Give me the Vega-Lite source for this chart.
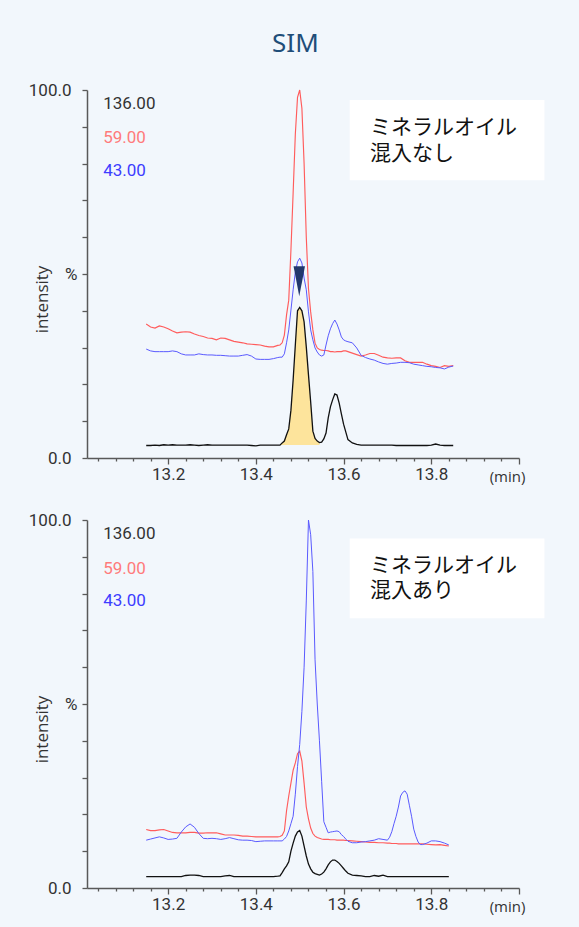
{
"$schema": "https://vega.github.io/schema/vega-lite/v6.json",
"background": "#f2f7fc",
"padding": {"left": 28, "top": 31, "right": 34, "bottom": 24},
"title": {"text": "SIM", "fontSize": 26, "color": "#1f4e79", "font": "Noto Sans", "fontWeight": "normal", "anchor": "middle", "offset": 24, "dx": 9},
"spacing": 62,
"bounds": "flush",
"config": {
  "view": {"stroke": null},
  "axis": {"domainColor": "#595959", "domainWidth": 1.5, "tickColor": "#595959", "tickWidth": 1.3, "labelFont": "Liberation Sans Narrow, Roboto, sans-serif", "labelFontSize": 17, "labelColor": "#333333", "grid": false}
},
"datasets": {
"top": [
{"t":13.15,"k":3.4,"r":36.4,"b":29.6},{"t":13.16,"k":3.4,"r":35.6,"b":29.1},{"t":13.17,"k":3.5,"r":35.3,"b":28.9},{"t":13.18,"k":3.4,"r":35.9,"b":28.9},{"t":13.19,"k":3.6,"r":35.6,"b":28.9},{"t":13.2,"k":3.5,"r":35.1,"b":28.9},{"t":13.21,"k":3.6,"r":34.5,"b":29.1},{"t":13.22,"k":3.5,"r":34.0,"b":28.9},{"t":13.23,"k":3.5,"r":34.2,"b":28.3},{"t":13.24,"k":3.5,"r":34.3,"b":28.0},
{"t":13.25,"k":3.6,"r":34.2,"b":28.0},{"t":13.26,"k":3.5,"r":33.7,"b":28.0},{"t":13.27,"k":3.4,"r":33.3,"b":28.3},{"t":13.28,"k":3.5,"r":33.0,"b":28.1},{"t":13.29,"k":3.6,"r":32.6,"b":28.0},{"t":13.3,"k":3.5,"r":32.5,"b":28.0},{"t":13.31,"k":3.5,"r":32.1,"b":27.9},{"t":13.32,"k":3.5,"r":32.6,"b":27.9},{"t":13.33,"k":3.5,"r":32.5,"b":27.8},{"t":13.34,"k":3.5,"r":32.1,"b":27.7},
{"t":13.35,"k":3.5,"r":31.7,"b":27.7},{"t":13.36,"k":3.5,"r":31.5,"b":27.7},{"t":13.37,"k":3.5,"r":31.3,"b":27.9},{"t":13.38,"k":3.5,"r":31.0,"b":28.1},{"t":13.39,"k":3.4,"r":30.9,"b":27.7},{"t":13.4,"k":3.3,"r":30.8,"b":26.9},{"t":13.41,"k":3.5,"r":30.7,"b":26.8},{"t":13.42,"k":3.5,"r":30.4,"b":26.8},{"t":13.43,"k":3.5,"r":30.2,"b":26.8},{"t":13.44,"k":3.5,"r":30.2,"b":27.0},
{"t":13.45,"k":3.5,"r":30.6,"b":27.3},{"t":13.455,"k":3.5,"r":30.7,"b":27.4},{"t":13.46,"k":4.1,"r":31.3,"b":27.4},{"t":13.465,"k":4.6,"r":33.4,"b":28.3},{"t":13.47,"k":6.3,"r":38.9,"b":31.3},{"t":13.475,"k":7.9,"r":42.9,"b":34.8},{"t":13.48,"k":13.0,"r":56.5,"b":40.2},{"t":13.485,"k":21.2,"r":72.0,"b":45.7},{"t":13.49,"k":30.7,"r":88.0,"b":50.5},{"t":13.495,"k":40.0,"r":98.0,"b":53.3},
{"t":13.5,"k":40.9,"r":100.0,"b":54.3},{"t":13.505,"k":40.0,"r":95.0,"b":53.0},{"t":13.51,"k":37.0,"r":80.0,"b":48.9},{"t":13.515,"k":30.2,"r":60.0,"b":45.7},{"t":13.52,"k":22.6,"r":46.0,"b":39.7},{"t":13.525,"k":15.2,"r":39.7,"b":34.8},{"t":13.53,"k":7.3,"r":34.8,"b":32.1},{"t":13.535,"k":5.3,"r":31.2,"b":29.9},{"t":13.54,"k":4.6,"r":29.9,"b":28.8},{"t":13.545,"k":4.2,"r":29.5,"b":28.0},
{"t":13.55,"k":4.3,"r":29.3,"b":27.7},{"t":13.555,"k":5.2,"r":29.2,"b":28.0},{"t":13.56,"k":6.8,"r":29.2,"b":30.7},{"t":13.565,"k":10.9,"r":29.1,"b":33.2},{"t":13.57,"k":13.9,"r":28.9,"b":35.1},{"t":13.575,"k":15.8,"r":28.9,"b":36.5},{"t":13.58,"k":17.4,"r":28.8,"b":37.5},{"t":13.585,"k":17.1,"r":28.9,"b":36.4},{"t":13.59,"k":14.9,"r":28.9,"b":34.8},{"t":13.595,"k":12.0,"r":28.9,"b":32.9},
{"t":13.6,"k":9.2,"r":29.1,"b":32.1},{"t":13.605,"k":7.1,"r":29.1,"b":31.8},{"t":13.61,"k":5.0,"r":28.9,"b":31.6},{"t":13.62,"k":4.1,"r":28.5,"b":31.3},{"t":13.63,"k":3.7,"r":28.1,"b":29.9},{"t":13.64,"k":3.5,"r":27.7,"b":27.9},{"t":13.65,"k":3.5,"r":28.0,"b":27.3},{"t":13.66,"k":3.5,"r":28.4,"b":26.9},{"t":13.67,"k":3.5,"r":28.4,"b":26.6},{"t":13.68,"k":3.5,"r":27.9,"b":26.1},
{"t":13.69,"k":3.5,"r":27.4,"b":25.7},{"t":13.7,"k":3.5,"r":27.2,"b":25.5},{"t":13.71,"k":3.5,"r":27.1,"b":25.7},{"t":13.72,"k":3.4,"r":27.2,"b":25.8},{"t":13.73,"k":3.4,"r":27.2,"b":26.0},{"t":13.74,"k":3.4,"r":26.4,"b":26.0},{"t":13.75,"k":3.4,"r":26.0,"b":25.9},{"t":13.76,"k":3.4,"r":26.0,"b":25.5},{"t":13.77,"k":3.4,"r":26.0,"b":25.3},{"t":13.78,"k":3.4,"r":26.0,"b":25.1},
{"t":13.79,"k":3.4,"r":25.5,"b":24.9},{"t":13.8,"k":3.5,"r":25.1,"b":24.8},{"t":13.81,"k":3.8,"r":24.9,"b":24.6},{"t":13.82,"k":3.5,"r":24.6,"b":24.5},{"t":13.83,"k":3.4,"r":25.1,"b":24.2},{"t":13.84,"k":3.4,"r":24.9,"b":24.7},{"t":13.85,"k":3.4,"r":25.1,"b":25.0}
],
"bot": [
{"t":13.15,"k":3.1,"r":15.9,"b":13.0},{"t":13.16,"k":3.1,"r":15.6,"b":13.3},{"t":13.17,"k":3.1,"r":15.6,"b":13.6},{"t":13.18,"k":3.1,"r":15.8,"b":13.9},{"t":13.19,"k":3.1,"r":15.9,"b":13.6},{"t":13.2,"k":3.1,"r":15.5,"b":13.2},{"t":13.21,"k":3.1,"r":15.1,"b":13.3},{"t":13.22,"k":3.1,"r":15.0,"b":13.5},{"t":13.23,"k":3.1,"r":15.0,"b":15.2},{"t":13.24,"k":3.4,"r":15.0,"b":16.6},
{"t":13.25,"k":3.5,"r":15.1,"b":17.4},{"t":13.26,"k":3.5,"r":15.1,"b":16.5},{"t":13.27,"k":3.4,"r":14.9,"b":14.8},{"t":13.28,"k":3.1,"r":14.9,"b":13.5},{"t":13.29,"k":3.1,"r":15.0,"b":13.4},{"t":13.3,"k":3.1,"r":15.0,"b":13.5},{"t":13.31,"k":3.1,"r":15.0,"b":13.4},{"t":13.32,"k":3.1,"r":14.7,"b":13.2},{"t":13.33,"k":3.3,"r":14.4,"b":13.4},{"t":13.34,"k":3.4,"r":14.4,"b":13.7},
{"t":13.35,"k":3.1,"r":14.4,"b":13.4},{"t":13.36,"k":3.1,"r":14.3,"b":13.1},{"t":13.37,"k":3.1,"r":14.1,"b":13.0},{"t":13.38,"k":3.1,"r":14.1,"b":13.0},{"t":13.39,"k":3.1,"r":14.0,"b":12.9},{"t":13.4,"k":3.1,"r":13.9,"b":12.6},{"t":13.41,"k":3.1,"r":13.9,"b":12.7},{"t":13.42,"k":3.1,"r":13.9,"b":12.8},{"t":13.43,"k":3.1,"r":13.9,"b":12.8},{"t":13.44,"k":3.1,"r":13.9,"b":12.8},
{"t":13.45,"k":3.2,"r":13.9,"b":12.8},{"t":13.455,"k":3.3,"r":14.0,"b":12.8},{"t":13.46,"k":4.2,"r":14.3,"b":12.8},{"t":13.465,"k":5.2,"r":15.5,"b":13.3},{"t":13.47,"k":6.0,"r":21.0,"b":14.0},{"t":13.475,"k":7.1,"r":25.0,"b":15.5},{"t":13.48,"k":10.0,"r":28.5,"b":17.5},{"t":13.485,"k":12.2,"r":32.0,"b":19.5},{"t":13.49,"k":14.1,"r":34.0,"b":25.5},{"t":13.495,"k":15.2,"r":36.5,"b":33.0},
{"t":13.5,"k":15.6,"r":37.2,"b":39.0},{"t":13.505,"k":14.1,"r":34.5,"b":48.0},{"t":13.51,"k":11.4,"r":28.5,"b":60.0},{"t":13.515,"k":8.7,"r":22.0,"b":78.0},{"t":13.52,"k":6.5,"r":18.8,"b":100.0},{"t":13.525,"k":5.2,"r":16.3,"b":96.0},{"t":13.53,"k":4.3,"r":14.8,"b":86.0},{"t":13.535,"k":3.9,"r":14.1,"b":62.0},{"t":13.54,"k":3.7,"r":13.7,"b":50.0},{"t":13.545,"k":3.5,"r":13.5,"b":40.0},
{"t":13.55,"k":3.8,"r":13.3,"b":29.0},{"t":13.555,"k":4.3,"r":13.2,"b":18.0},{"t":13.56,"k":5.2,"r":13.2,"b":16.5},{"t":13.565,"k":6.3,"r":13.2,"b":15.0},{"t":13.57,"k":7.1,"r":13.1,"b":15.2},{"t":13.575,"k":7.6,"r":13.1,"b":15.3},{"t":13.58,"k":7.6,"r":13.1,"b":15.4},{"t":13.585,"k":7.2,"r":13.0,"b":15.5},{"t":13.59,"k":6.7,"r":13.0,"b":15.3},{"t":13.595,"k":6.0,"r":13.0,"b":14.5},
{"t":13.6,"k":5.3,"r":13.0,"b":14.0},{"t":13.605,"k":4.6,"r":12.9,"b":13.3},{"t":13.61,"k":4.0,"r":12.9,"b":12.7},{"t":13.62,"k":3.5,"r":12.8,"b":12.3},{"t":13.63,"k":3.4,"r":12.7,"b":12.3},{"t":13.64,"k":3.3,"r":12.6,"b":12.5},{"t":13.65,"k":3.1,"r":12.5,"b":12.6},{"t":13.66,"k":3.1,"r":12.4,"b":12.8},{"t":13.67,"k":3.4,"r":12.4,"b":13.0},{"t":13.68,"k":3.2,"r":12.3,"b":13.4},
{"t":13.69,"k":3.5,"r":12.3,"b":13.2},{"t":13.7,"k":3.1,"r":12.2,"b":13.0},{"t":13.705,"k":3.1,"r":12.2,"b":13.8},{"t":13.71,"k":3.1,"r":12.1,"b":15.3},{"t":13.715,"k":3.1,"r":12.1,"b":17.5},{"t":13.72,"k":3.1,"r":12.1,"b":19.5},{"t":13.725,"k":3.1,"r":12.0,"b":22.0},{"t":13.73,"k":3.1,"r":12.0,"b":25.0},{"t":13.735,"k":3.1,"r":12.0,"b":26.0},{"t":13.74,"k":3.1,"r":12.0,"b":26.4},
{"t":13.745,"k":3.1,"r":12.0,"b":25.5},{"t":13.75,"k":3.1,"r":12.0,"b":22.5},{"t":13.755,"k":3.1,"r":12.0,"b":19.5},{"t":13.76,"k":3.1,"r":12.0,"b":16.0},{"t":13.765,"k":3.1,"r":12.0,"b":14.0},{"t":13.77,"k":3.1,"r":12.0,"b":12.5},{"t":13.775,"k":3.1,"r":12.0,"b":11.8},{"t":13.78,"k":3.1,"r":12.0,"b":11.8},{"t":13.79,"k":3.1,"r":11.9,"b":12.2},{"t":13.8,"k":3.1,"r":11.8,"b":12.8},
{"t":13.81,"k":3.1,"r":11.7,"b":12.8},{"t":13.82,"k":3.1,"r":11.8,"b":12.6},{"t":13.83,"k":3.1,"r":11.6,"b":12.2},{"t":13.84,"k":3.1,"r":11.4,"b":11.7}
]
},
"vconcat": [
{
"width": 432, "height": 368,
"resolve": {"axis": {"x": "independent", "y": "independent"}},
"layer": [
{"data": {"name": "top"},
 "transform": [{"filter": "datum.t >= 13.455 && datum.t <= 13.548"}],
 "mark": {"type": "area", "color": "#fde49c"},
 "encoding": {
  "x": {"field": "t", "type": "quantitative", "scale": {"domain": [13.015, 14.0], "nice": false, "zero": false}, "axis": null},
  "y": {"field": "k", "type": "quantitative", "scale": {"domain": [0, 100], "nice": false, "zero": false}, "axis": null},
  "y2": {"datum": 3.5}
 }},
{"data": {"name": "top"},
 "transform": [{"fold": ["k", "r", "b"], "as": ["ion", "v"]}],
 "mark": {"type": "line", "clip": false},
 "encoding": {
  "x": {"field": "t", "type": "quantitative", "scale": {"domain": [13.015, 14.0], "nice": false, "zero": false},
   "axis": {"title": "(min)", "values": [13.04,13.08,13.12,13.16,13.2,13.24,13.28,13.32,13.36,13.4,13.44,13.48,13.52,13.56,13.6,13.64,13.68,13.72,13.76,13.8,13.84,13.88,13.92,13.96,14.0],
    "labelExpr": "abs(datum.value*5 - round(datum.value*5)) < 0.01 && datum.value < 13.9 ? format(datum.value, '.1f') : ''",
    "tickSize": {"condition": {"test": "abs(datum.value*5 - round(datum.value*5)) < 0.01", "value": 6}, "value": 3},
    "labelPadding": 2, "labelOverlap": false, "labelFlush": false,
    "titleX": 420, "titleY": 23, "titleAlign": "center", "titleBaseline": "alphabetic", "titleFont": "Open Sans", "titleFontSize": 15, "titleFontWeight": "normal", "titleColor": "#333333"}},
  "y": {"field": "v", "type": "quantitative", "scale": {"domain": [0, 100], "nice": false, "zero": false},
   "axis": {"title": "intensity", "values": [0,10,20,30,40,50,60,70,80,90,100],
    "labelExpr": "datum.value == 100 ? '100.0' : datum.value == 50 ? '%' : datum.value == 0 ? '0.0' : ''",
    "tickSize": 5, "labelPadding": {"condition": {"test": "datum.value == 50", "value": 5}, "value": 11}, "labelOverlap": false,
    "titleX": -40, "titleY": 209, "titleAngle": 270, "titleAlign": "center", "titleBaseline": "alphabetic", "titleFont": "Open Sans", "titleFontSize": 17, "titleFontWeight": "normal", "titleColor": "#333333"}},
  "color": {"field": "ion", "type": "nominal", "scale": {"domain": ["k", "r", "b"], "range": ["#111111", "#ff5c5c", "#5a5aff"]}, "legend": null},
  "strokeWidth": {"field": "ion", "type": "nominal", "scale": {"domain": ["k", "r", "b"], "range": [1.3, 1, 1]}, "legend": null}
 }},
{"data": {"values": [{}]},
 "mark": {"type": "point", "shape": "M-0.38,-1L0.38,-1L0,1Z", "filled": true, "color": "#22386b", "size": 900, "opacity": 1, "strokeWidth": 0},
 "encoding": {
  "x": {"datum": 13.499, "type": "quantitative", "scale": {"domain": [13.015, 14.0], "nice": false, "zero": false}, "axis": null},
  "y": {"datum": 48, "type": "quantitative", "scale": {"domain": [0, 100], "nice": false, "zero": false}, "axis": null}
 }},
{"data": {"values": [{}]},
 "mark": {"type": "rect", "color": "#ffffff", "clip": false},
 "encoding": {
  "x": {"datum": 13.614, "type": "quantitative", "scale": {"domain": [13.015, 14.0], "nice": false, "zero": false}, "axis": null},
  "x2": {"datum": 14.058},
  "y": {"datum": 97.3, "type": "quantitative", "scale": {"domain": [0, 100], "nice": false, "zero": false}, "axis": null},
  "y2": {"datum": 75.5}
 }},
{"data": {"values": [{}]},
 "mark": {"type": "text", "text": ["ミネラルオイル", "混入なし"], "align": "left", "baseline": "middle", "font": "Noto Sans CJK JP", "fontSize": 21, "lineHeight": 26, "color": "#111111"},
 "encoding": {
  "x": {"datum": 13.66, "type": "quantitative", "scale": {"domain": [13.015, 14.0], "nice": false, "zero": false}, "axis": null},
  "y": {"datum": 89.7, "type": "quantitative", "scale": {"domain": [0, 100], "nice": false, "zero": false}, "axis": null}
 }},
{"data": {"values": [{}]},
 "mark": {"type": "text", "text": "136.00", "align": "left", "baseline": "middle", "font": "Liberation Sans Narrow, Roboto, sans-serif", "fontSize": 17, "color": "#333333"},
 "encoding": {
  "x": {"datum": 13.052, "type": "quantitative", "scale": {"domain": [13.015, 14.0], "nice": false, "zero": false}, "axis": null},
  "y": {"datum": 96.1, "type": "quantitative", "scale": {"domain": [0, 100], "nice": false, "zero": false}, "axis": null}
 }},
{"data": {"values": [{}]},
 "mark": {"type": "text", "text": "59.00", "align": "left", "baseline": "middle", "font": "Liberation Sans Narrow, Roboto, sans-serif", "fontSize": 17, "color": "#ff7b7b"},
 "encoding": {
  "x": {"datum": 13.052, "type": "quantitative", "scale": {"domain": [13.015, 14.0], "nice": false, "zero": false}, "axis": null},
  "y": {"datum": 86.9, "type": "quantitative", "scale": {"domain": [0, 100], "nice": false, "zero": false}, "axis": null}
 }},
{"data": {"values": [{}]},
 "mark": {"type": "text", "text": "43.00", "align": "left", "baseline": "middle", "font": "Liberation Sans Narrow, Roboto, sans-serif", "fontSize": 17, "color": "#3d3dff"},
 "encoding": {
  "x": {"datum": 13.052, "type": "quantitative", "scale": {"domain": [13.015, 14.0], "nice": false, "zero": false}, "axis": null},
  "y": {"datum": 78.0, "type": "quantitative", "scale": {"domain": [0, 100], "nice": false, "zero": false}, "axis": null}
 }}
]
},
{
"width": 432, "height": 368,
"resolve": {"axis": {"x": "independent", "y": "independent"}},
"layer": [
{"data": {"name": "bot"},
 "transform": [{"fold": ["k", "r", "b"], "as": ["ion", "v"]}],
 "mark": {"type": "line", "clip": false},
 "encoding": {
  "x": {"field": "t", "type": "quantitative", "scale": {"domain": [13.015, 14.0], "nice": false, "zero": false},
   "axis": {"title": "(min)", "values": [13.04,13.08,13.12,13.16,13.2,13.24,13.28,13.32,13.36,13.4,13.44,13.48,13.52,13.56,13.6,13.64,13.68,13.72,13.76,13.8,13.84,13.88,13.92,13.96,14.0],
    "labelExpr": "abs(datum.value*5 - round(datum.value*5)) < 0.01 && datum.value < 13.9 ? format(datum.value, '.1f') : ''",
    "tickSize": {"condition": {"test": "abs(datum.value*5 - round(datum.value*5)) < 0.01", "value": 6}, "value": 3},
    "labelPadding": 2, "labelOverlap": false, "labelFlush": false,
    "titleX": 420, "titleY": 23, "titleAlign": "center", "titleBaseline": "alphabetic", "titleFont": "Open Sans", "titleFontSize": 15, "titleFontWeight": "normal", "titleColor": "#333333"}},
  "y": {"field": "v", "type": "quantitative", "scale": {"domain": [0, 100], "nice": false, "zero": false},
   "axis": {"title": "intensity", "values": [0,10,20,30,40,50,60,70,80,90,100],
    "labelExpr": "datum.value == 100 ? '100.0' : datum.value == 50 ? '%' : datum.value == 0 ? '0.0' : ''",
    "tickSize": 5, "labelPadding": {"condition": {"test": "datum.value == 50", "value": 5}, "value": 11}, "labelOverlap": false,
    "titleX": -40, "titleY": 209, "titleAngle": 270, "titleAlign": "center", "titleBaseline": "alphabetic", "titleFont": "Open Sans", "titleFontSize": 17, "titleFontWeight": "normal", "titleColor": "#333333"}},
  "color": {"field": "ion", "type": "nominal", "scale": {"domain": ["k", "r", "b"], "range": ["#111111", "#ff5c5c", "#5a5aff"]}, "legend": null},
  "strokeWidth": {"field": "ion", "type": "nominal", "scale": {"domain": ["k", "r", "b"], "range": [1.3, 1, 1]}, "legend": null}
 }},
{"data": {"values": [{}]},
 "mark": {"type": "rect", "color": "#ffffff", "clip": false},
 "encoding": {
  "x": {"datum": 13.614, "type": "quantitative", "scale": {"domain": [13.015, 14.0], "nice": false, "zero": false}, "axis": null},
  "x2": {"datum": 14.058},
  "y": {"datum": 95.0, "type": "quantitative", "scale": {"domain": [0, 100], "nice": false, "zero": false}, "axis": null},
  "y2": {"datum": 73.3}
 }},
{"data": {"values": [{}]},
 "mark": {"type": "text", "text": ["ミネラルオイル", "混入あり"], "align": "left", "baseline": "middle", "font": "Noto Sans CJK JP", "fontSize": 21, "lineHeight": 25, "color": "#111111"},
 "encoding": {
  "x": {"datum": 13.66, "type": "quantitative", "scale": {"domain": [13.015, 14.0], "nice": false, "zero": false}, "axis": null},
  "y": {"datum": 87.5, "type": "quantitative", "scale": {"domain": [0, 100], "nice": false, "zero": false}, "axis": null}
 }},
{"data": {"values": [{}]},
 "mark": {"type": "text", "text": "136.00", "align": "left", "baseline": "middle", "font": "Liberation Sans Narrow, Roboto, sans-serif", "fontSize": 17, "color": "#333333"},
 "encoding": {
  "x": {"datum": 13.052, "type": "quantitative", "scale": {"domain": [13.015, 14.0], "nice": false, "zero": false}, "axis": null},
  "y": {"datum": 96.1, "type": "quantitative", "scale": {"domain": [0, 100], "nice": false, "zero": false}, "axis": null}
 }},
{"data": {"values": [{}]},
 "mark": {"type": "text", "text": "59.00", "align": "left", "baseline": "middle", "font": "Liberation Sans Narrow, Roboto, sans-serif", "fontSize": 17, "color": "#ff7b7b"},
 "encoding": {
  "x": {"datum": 13.052, "type": "quantitative", "scale": {"domain": [13.015, 14.0], "nice": false, "zero": false}, "axis": null},
  "y": {"datum": 86.8, "type": "quantitative", "scale": {"domain": [0, 100], "nice": false, "zero": false}, "axis": null}
 }},
{"data": {"values": [{}]},
 "mark": {"type": "text", "text": "43.00", "align": "left", "baseline": "middle", "font": "Liberation Sans Narrow, Roboto, sans-serif", "fontSize": 17, "color": "#3d3dff"},
 "encoding": {
  "x": {"datum": 13.052, "type": "quantitative", "scale": {"domain": [13.015, 14.0], "nice": false, "zero": false}, "axis": null},
  "y": {"datum": 77.9, "type": "quantitative", "scale": {"domain": [0, 100], "nice": false, "zero": false}, "axis": null}
 }}
]
}
]
}
